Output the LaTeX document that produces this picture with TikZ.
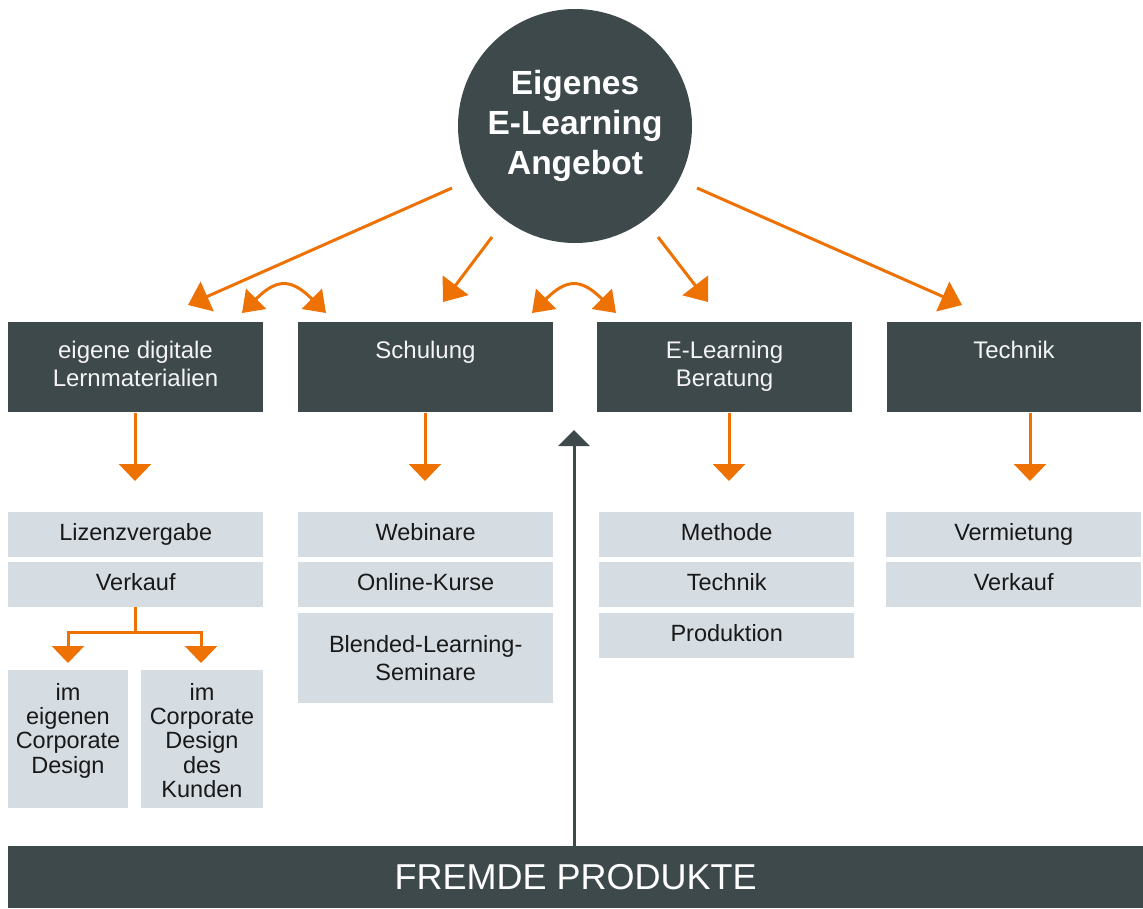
\documentclass[tikz,border=0pt]{standalone}
\usepackage{fontspec}
\setmainfont{Liberation Sans}
\usetikzlibrary{arrows.meta,calc}
\definecolor{dk}{HTML}{3E494B}
\definecolor{org}{HTML}{EE7203}
\definecolor{lt}{HTML}{D5DCE2}
\begin{document}
\begin{tikzpicture}[x=1pt,y=-1pt,
  dbox/.style={fill=dk, draw=none, minimum width=255pt, minimum height=90pt, anchor=north west, inner sep=0pt},
  dtext/.style={text=white!94!dk, align=center, anchor=north, inner sep=0pt, font=\fontsize{24}{28}\selectfont},
  lboxm/.style={fill=lt, draw=none, minimum width=255pt, minimum height=45pt, anchor=north west, inner sep=0pt, align=center, text=black!90, font=\fontsize{23.5}{28}\selectfont},
  lbox/.style={lboxm, text height=17pt, text depth=5pt},
  sbox/.style={fill=lt, draw=none, minimum width=121pt, minimum height=138pt, anchor=north west, inner sep=0pt},
  stext/.style={align=center, anchor=north, inner sep=0pt, text=black!90, font=\fontsize{23.5}{24.3}\selectfont},
  arr/.style={draw=org, line width=3pt, -{Triangle[width=32pt,length=17pt]}},
  darr/.style={draw=org, line width=3pt, -{Triangle[width=32pt,length=21pt]}},
  barr/.style={draw=org, line width=3pt, {Triangle[width=28pt,length=20pt]}-{Triangle[width=28pt,length=20pt]}},
  garr/.style={draw=dk, line width=3pt, -{Triangle[width=31pt,length=16pt]}}
]
\useasboundingbox (0,0) rectangle (1143,908);

% central circle
\node[circle, fill=dk, minimum size=234pt, inner sep=0pt, align=center, text=white,
      font=\bfseries\fontsize{33.5}{40}\selectfont] (circ) at (575,126) {Eigenes\\E-Learning\\Angebot};

% top boxes
\node[dbox] (bA) at (8,322) {};
\node[dbox] (bB) at (298,322) {};
\node[dbox] (bC) at (597,322) {};
\node[dbox, minimum width=254pt] (bD) at (887,322) {};
\node[dtext] (tA) at (135.5,341) {eigene digitale\\Lernmaterialien};
\node[dtext] (tB) at (425.5,341) {Schulung};
\node[dtext] (tC) at (724.5,341) {E-Learning\\Beratung};
\node[dtext] (tD) at (1014,341) {Technik};

% diagonal arrows from circle
\coordinate (s1) at (452,188); \coordinate (e1) at (188,305);
\coordinate (s2) at (492,237); \coordinate (e2) at (443,302);
\coordinate (s3) at (658,237); \coordinate (e3) at (708,302);
\coordinate (s4) at (697,188); \coordinate (e4) at (962,305);
\draw[darr] (s1) -- (e1);
\draw[darr] (s2) -- (e2);
\draw[darr] (s3) -- (e3);
\draw[darr] (s4) -- (e4);

% curved double arrows
\coordinate (cA1) at (242,313); \coordinate (cA2) at (326,313);
\coordinate (cB1) at (532,313); \coordinate (cB2) at (616,313);
\draw[barr] (cA1) to[out=45, in=135, looseness=1.5] (cA2);
\draw[barr] (cB1) to[out=45, in=135, looseness=1.5] (cB2);

% light boxes
\node[lbox] (a1) at (8,512) {Lizenzvergabe};
\node[lbox] (a2) at (8,562) {Verkauf};
\node[lbox] (b1) at (298,512) {Webinare};
\node[lbox] (b2) at (298,562) {Online-Kurse};
\node[lboxm, minimum height=90pt] (b3) at (298,613) {Blended-Learning-\\Seminare};
\node[lbox] (c1) at (599,512) {Methode};
\node[lbox] (c2) at (599,562) {Technik};
\node[lbox] (c3) at (599,613) {Produktion};
\node[lbox] (d1) at (886,512) {Vermietung};
\node[lbox] (d2) at (886,562) {Verkauf};

% down arrows
\coordinate (dA0) at (135,413); \coordinate (dA) at (135,481);
\coordinate (dB0) at (425,413); \coordinate (dB) at (425,481);
\coordinate (dC0) at (729,413); \coordinate (dC) at (729,481);
\coordinate (dD0) at (1030,413); \coordinate (dD) at (1030,481);
\draw[arr] (dA0) -- (dA);
\draw[arr] (dB0) -- (dB);
\draw[arr] (dC0) -- (dC);
\draw[arr] (dD0) -- (dD);

% small boxes
\node[sbox, minimum width=120pt] (sA) at (8,670) {};
\node[sbox, minimum width=122pt] (sB) at (141,670) {};
\node[stext] (stA) at (68,683) {im\\eigenen\\Corporate\\Design};
\node[stext] (stB) at (202,683) {im\\Corporate\\Design\\des\\Kunden};

% fork
\coordinate (f0) at (135,607);
\coordinate (fk) at (135,632);
\coordinate (fL) at (68,663);
\coordinate (fR) at (201,663);
\draw[org, line width=3pt] (f0) -- (fk);
\draw[arr] (fk) -| (fL);
\draw[arr] (fk) -| (fR);

% bottom bar
\node[fill=dk, minimum width=1135pt, minimum height=62pt, anchor=north west, inner sep=0pt,
      text=white, font=\fontsize{36}{36}\selectfont] (bar) at (8,846) {FREMDE PRODUKTE};
\coordinate (gs) at (574,846);
\coordinate (gt) at (574,430);
\draw[garr] (gs) -- (gt);
\end{tikzpicture}
\end{document}
